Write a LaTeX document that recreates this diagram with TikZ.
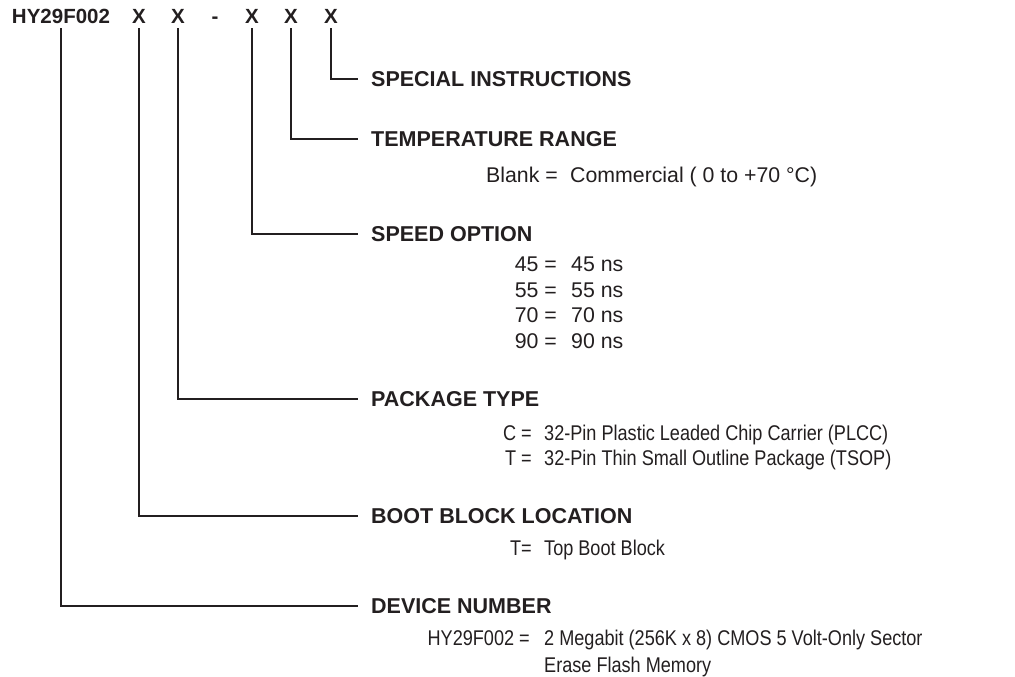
\documentclass[tikz,border=0pt]{standalone}
\usepackage{fontspec}
\setmainfont{Liberation Sans}
\newfontfamily\condfont[FakeStretch=0.85]{Liberation Sans}
\definecolor{ink}{HTML}{231F20}
\begin{document}
\begin{tikzpicture}[x=1pt,y=-1pt,
  top/.style={anchor=base,inner sep=0pt,font=\fontsize{20.5}{24}\selectfont\bfseries,text=ink},
  head/.style={anchor=west,inner xsep=13pt,inner ysep=0pt,font=\fontsize{21.5}{24}\selectfont\bfseries,text=ink},
  key/.style={anchor=base east,inner sep=0pt,text=ink,align=right},
  val/.style={anchor=base west,inner sep=0pt,text=ink,align=left},
  reg/.style={font=\fontsize{21.3}{25.5}\selectfont},
  cond/.style={font=\condfont\fontsize{21.3}{25}\selectfont},
  conn/.style={draw=ink,line width=1.2pt,shorten <=4pt}]
\fill[white] (0,0) rectangle (1015,677);
\useasboundingbox (0,0) rectangle (1015,677);
% part number
\node[top] (pn) at (61,24) {HY29F002};
\node[top] (x1) at (139,24) {X};
\node[top] (x2) at (178,24) {X};
\node[top] (dash) at (215,24) {-};
\node[top] (x3) at (252,24) {X};
\node[top] (x4) at (291,24) {X};
\node[top] (x5) at (331,24) {X};
% headings
\node[head] (hspec) at (358,79) {SPECIAL INSTRUCTIONS};
\node[head] (htemp) at (358,139) {TEMPERATURE RANGE};
\node[head] (hspeed) at (358,234) {SPEED OPTION};
\node[head] (hpack) at (358,399) {PACKAGE TYPE};
\node[head] (hboot) at (358,516) {BOOT BLOCK LOCATION};
\node[head] (hdev) at (358,606) {DEVICE NUMBER};
% connectors
\draw[conn] (x5) |- (hspec);
\draw[conn] (x4) |- (htemp);
\draw[conn] (x3) |- (hspeed);
\draw[conn] (x2) |- (hpack);
\draw[conn] (x1) |- (hboot);
\draw[conn] (pn) |- (hdev);
% descriptions (multi-line nodes are placed by the baseline of their last line)
\node[key,reg] (ktemp) at (558,182) {Blank =};
\node[val,reg] (vtemp) at (570,182) {Commercial ( 0 to +70 °C)};
\node[key,reg] (kspeed) at (557,348) {45 =\\55 =\\70 =\\90 =};
\node[val,reg] (vspeed) at (571,348) {45 ns\\55 ns\\70 ns\\90 ns};
\node[key,cond] (kpack) at (532,465) {C =\\T =};
\node[val,cond] (vpack) at (544,465) {32-Pin Plastic Leaded Chip Carrier (PLCC)\\32-Pin Thin Small Outline Package (TSOP)};
\node[key,cond] (kboot) at (532,555) {T=};
\node[val,cond] (vboot) at (544,555) {Top Boot Block};
\node[key,cond] (kdev) at (530,645) {HY29F002 =};
\node[val,cond,font=\condfont\fontsize{21.3}{27}\selectfont] (vdev) at (544,672) {2 Megabit (256K x 8) CMOS 5 Volt-Only Sector\\Erase Flash Memory};
\end{tikzpicture}
\end{document}
